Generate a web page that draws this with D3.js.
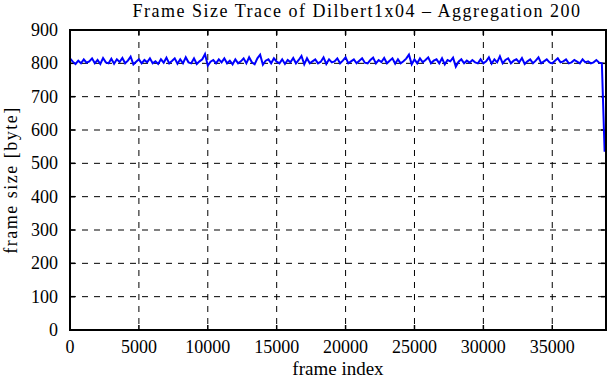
<!DOCTYPE html>
<html>
<head>
<meta charset="utf-8">
<script src="https://cdn.jsdelivr.net/npm/d3@7"></script>
<style>
  body { margin: 0; background: #fff; }
  text { font-family: "Liberation Serif", "DejaVu Serif", serif; fill: #000; }
</style>
</head>
<body>
<div id="chart"></div>
<script>
// Data: aggregated frame sizes, one value every 200 frames
const frameStep = 200;
const frameSizes = [
  815, 805, 798, 808, 800, 812, 802, 806, 815, 800,
  810, 798, 816, 803, 800, 814, 799, 812, 804, 816,
  800, 808, 820, 797, 805, 812, 800, 810, 803, 815,
  800, 806, 798, 812, 802, 817, 800, 807, 815, 799,
  812, 800, 818, 803, 800, 815, 798, 806, 812, 828,
  793, 805, 810, 800, 812, 803, 815, 800, 808, 797,
  812, 800, 806, 815, 800, 818, 803, 797, 815, 826,
  796, 808, 812, 800, 815, 805, 800, 812, 798, 810,
  803, 816, 800, 810, 822, 797, 815, 800, 806, 812,
  800, 805, 818, 798, 812, 803, 806, 815, 800, 808,
  818, 800, 806, 812, 800, 808, 815, 802, 800, 810,
  817, 800, 810, 804, 816, 800, 808, 815, 799, 812,
  800, 806, 814, 826, 797, 812, 800, 815, 803, 810,
  818, 800, 808, 812, 800, 815, 797, 810, 806, 817,
  790, 805, 812, 800, 808, 802, 810, 803, 800, 812,
  800, 806, 818, 799, 812, 803, 821, 800, 810, 815,
  800, 808, 812, 803, 816, 798, 806, 812, 800, 808,
  818, 800, 806, 812, 803, 800, 808, 815, 803, 806,
  812, 800, 803, 810, 805, 800, 812, 803, 806, 800,
  803, 810, 802, 800, 535
];
const xTicks = [0, 5000, 10000, 15000, 20000, 25000, 30000, 35000];
const yTicks = [0, 100, 200, 300, 400, 500, 600, 700, 800, 900];
const titleText = "Frame Size Trace of Dilbert1x04 \u2013 Aggregation 200";

// Layout
const W = 611, H = 380;
const margin = { top: 30, right: 5, bottom: 50, left: 70 };
const width = W - margin.left - margin.right;
const height = H - margin.top - margin.bottom;

const svg = d3.select("#chart").append("svg")
  .attr("width", W).attr("height", H);

const g = svg.append("g")
  .attr("transform", `translate(${margin.left},${margin.top})`);

const x = d3.scaleLinear().domain([0, 38900]).range([0, width]);
const y = d3.scaleLinear().domain([0, 900]).range([height, 0]);

// Grid (dashed)
g.selectAll(".vgrid").data(xTicks.slice(1)).enter().append("line")
  .attr("x1", d => x(d)).attr("x2", d => x(d))
  .attr("y1", 0).attr("y2", height)
  .attr("stroke", "#000").attr("stroke-width", 1)
  .attr("stroke-dasharray", "6,6");
g.selectAll(".hgrid").data(yTicks.slice(1, -1)).enter().append("line")
  .attr("x1", 0).attr("x2", width)
  .attr("y1", d => y(d)).attr("y2", d => y(d))
  .attr("stroke", "#000").attr("stroke-width", 1)
  .attr("stroke-dasharray", "6,6");

// Inward tick marks on all four sides
const tl = 5;
g.selectAll(".xtb").data(xTicks).enter().append("line")
  .attr("x1", d => x(d)).attr("x2", d => x(d))
  .attr("y1", height).attr("y2", height - tl)
  .attr("stroke", "#000").attr("stroke-width", 1.5);
g.selectAll(".xtt").data(xTicks).enter().append("line")
  .attr("x1", d => x(d)).attr("x2", d => x(d))
  .attr("y1", 0).attr("y2", tl)
  .attr("stroke", "#000").attr("stroke-width", 1.5);
g.selectAll(".ytl").data(yTicks).enter().append("line")
  .attr("x1", 0).attr("x2", tl)
  .attr("y1", d => y(d)).attr("y2", d => y(d))
  .attr("stroke", "#000").attr("stroke-width", 1.5);
g.selectAll(".ytr").data(yTicks).enter().append("line")
  .attr("x1", width).attr("x2", width - tl)
  .attr("y1", d => y(d)).attr("y2", d => y(d))
  .attr("stroke", "#000").attr("stroke-width", 1.5);

// Tick labels
g.selectAll(".xl").data(xTicks).enter().append("text")
  .attr("x", d => x(d)).attr("y", height + 23)
  .attr("text-anchor", "middle").attr("font-size", 18)
  .text(d => d);
g.selectAll(".yl").data(yTicks).enter().append("text")
  .attr("x", -12).attr("y", d => y(d) + 6)
  .attr("text-anchor", "end").attr("font-size", 18)
  .text(d => d);

// Trace line
const line = d3.line()
  .x((d, i) => x(i * frameStep))
  .y(d => y(d));
g.append("path").datum(frameSizes)
  .attr("d", line)
  .attr("fill", "none")
  .attr("stroke", "#0000ff")
  .attr("stroke-width", 2)
  .attr("stroke-linejoin", "miter");

// Frame
g.append("rect")
  .attr("x", 0).attr("y", 0).attr("width", width).attr("height", height)
  .attr("fill", "none").attr("stroke", "#000").attr("stroke-width", 2);

// Titles
svg.append("text")
  .attr("x", 357).attr("y", 17)
  .attr("text-anchor", "middle").attr("font-size", 18)
  .attr("letter-spacing", 1.5)
  .text(titleText);
svg.append("text")
  .attr("x", margin.left + width / 2).attr("y", H - 5)
  .attr("text-anchor", "middle").attr("font-size", 19)
  .text("frame index");
svg.append("text")
  .attr("transform", `translate(17,${margin.top + height / 2}) rotate(-90)`)
  .attr("text-anchor", "middle").attr("font-size", 18)
  .attr("letter-spacing", 1.5)
  .text("frame size [byte]");
</script>
</body>
</html>
